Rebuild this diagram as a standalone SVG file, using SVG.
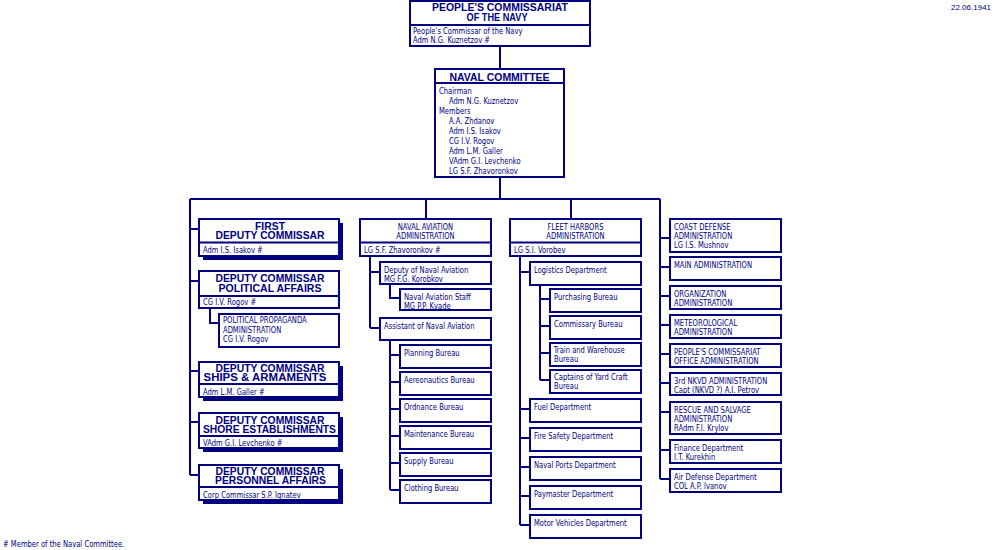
<svg xmlns="http://www.w3.org/2000/svg" width="1000" height="550" viewBox="0 0 1000 550" xml:space="preserve">
<style>
.b{fill:#fff;stroke:#000080;stroke-width:2}
.sh{fill:#000080}
.d{stroke:#000080;stroke-width:2}
.c{stroke:#000080;stroke-width:2;fill:none}
.t{font-family:"DejaVu Sans Condensed","Liberation Sans",sans-serif;font-size:9px;fill:#000080;transform:scaleX(0.84);transform-box:fill-box;transform-origin:0 50%}
.m{text-anchor:middle;transform-origin:50% 50%}
.h{font-family:"Liberation Sans","DejaVu Sans",sans-serif;font-weight:bold;font-size:10px;fill:#000080;text-anchor:middle}
.dt{font-family:"Liberation Sans",sans-serif;font-size:8px;fill:#000080}
</style>
<rect width="1000" height="550" fill="#fff"/>
<g id="connectors" class="c">
<path d="M500,46V69M500,177V199M190,199H660M190,199V475M426,199V219M571,199V219M660,199V479"/>
<path d="M190,229H199M190,281H199M190,371H199M190,422H199M190,475H199M210,308V323H219"/>
<path d="M370,256V328M370,272H380M370,328H380M390,284V298H400M390,340V490M390,355H400M390,382H400M390,409H400M390,436H400M390,463H400M390,490H400"/>
<path d="M520,256V525M520,272H530M520,409H530M520,438H530M520,467H530M520,496H530M520,525H530M540,285V380M540,299H550M540,326H550M540,353H550M540,380H550"/>
<path d="M660,238H670M660,267H670M660,296H670M660,325H670M660,354H670M660,383H670M660,412H670M660,450H670M660,479H670"/>
</g>
<g id="commissariat"><rect class="b" x="410" y="1" width="180" height="45"/><line class="d" x1="410" y1="25" x2="590" y2="25"/>
<text class="h" x="500" y="10.5" textLength="136" lengthAdjust="spacingAndGlyphs">PEOPLE'S COMMISSARIAT</text>
<text class="h" x="497" y="21" textLength="61" lengthAdjust="spacingAndGlyphs">OF THE NAVY</text>
<text class="t" x="413" y="34.5">People's Commissar of the Navy</text>
<text class="t" x="413" y="43.5">Adm  N.G. Kuznetzov #</text></g>
<g id="naval-committee"><rect class="b" x="435" y="69" width="129" height="108"/><line class="d" x1="435" y1="83" x2="564" y2="83"/>
<text class="h" x="499.5" y="80.5" textLength="100" lengthAdjust="spacingAndGlyphs">NAVAL COMMITTEE</text>
<text class="t" x="439" y="94">Chairman</text>
<text class="t" x="449" y="104">Adm  N.G. Kuznetzov</text>
<text class="t" x="439" y="114">Members</text>
<text class="t" x="449" y="124">A.A. Zhdanov</text>
<text class="t" x="449" y="134">Adm  I.S. Isakov</text>
<text class="t" x="449" y="144">CG  I.V. Rogov</text>
<text class="t" x="449" y="154">Adm  L.M. Galler</text>
<text class="t" x="449" y="164">VAdm  G.I. Levchenko</text>
<text class="t" x="449" y="174">LG  S.F. Zhavoronkov</text></g>
<g id="first-deputy"><rect class="sh" x="203" y="223" width="140" height="37"/><rect class="b" x="199" y="219" width="140" height="37"/><line class="d" x1="199" y1="242.5" x2="339" y2="242.5"/>
<text class="h" x="270" y="229.5" textLength="30" lengthAdjust="spacingAndGlyphs">FIRST</text>
<text class="h" x="270" y="239" textLength="109" lengthAdjust="spacingAndGlyphs">DEPUTY COMMISSAR</text>
<text class="t" x="203" y="253">Adm I.S. Isakov #</text></g>
<g id="political-affairs"><rect class="b" x="199" y="271" width="140" height="37"/><line class="d" x1="199" y1="296" x2="339" y2="296"/>
<text class="h" x="270" y="282" textLength="109" lengthAdjust="spacingAndGlyphs">DEPUTY COMMISSAR</text>
<text class="h" x="270" y="291.5" textLength="103" lengthAdjust="spacingAndGlyphs">POLITICAL AFFAIRS</text>
<text class="t" x="203" y="305">CG I.V. Rogov #</text></g>
<g id="propaganda"><rect class="b" x="219" y="314" width="120" height="33"/>
<text class="t" x="223" y="323.5">POLITICAL PROPAGANDA</text>
<text class="t" x="223" y="333">ADMINISTRATION</text>
<text class="t" x="223" y="342.5">CG  I.V. Rogov</text></g>
<g id="ships"><rect class="sh" x="203" y="366" width="140" height="35"/><rect class="b" x="199" y="362" width="140" height="35"/><line class="d" x1="199" y1="384" x2="339" y2="384"/>
<text class="h" x="270" y="371.5" textLength="109" lengthAdjust="spacingAndGlyphs">DEPUTY COMMISSAR</text>
<text class="h" x="265" y="381" textLength="123" lengthAdjust="spacingAndGlyphs">SHIPS &amp; ARMAMENTS</text>
<text class="t" x="203" y="395.5">Adm  L.M. Galler #</text></g>
<g id="shore"><rect class="sh" x="203" y="417" width="140" height="35"/><rect class="b" x="199" y="413" width="140" height="35"/><line class="d" x1="199" y1="436" x2="339" y2="436"/>
<text class="h" x="270" y="424" textLength="109" lengthAdjust="spacingAndGlyphs">DEPUTY COMMISSAR</text>
<text class="h" x="269.5" y="433.3" textLength="133" lengthAdjust="spacingAndGlyphs">SHORE ESTABLISHMENTS</text>
<text class="t" x="203" y="446.5">VAdm  G.I. Levchenko #</text></g>
<g id="personnel"><rect class="sh" x="203" y="469" width="140" height="35"/><rect class="b" x="199" y="465" width="140" height="35"/><line class="d" x1="199" y1="487" x2="339" y2="487"/>
<text class="h" x="270" y="475" textLength="109" lengthAdjust="spacingAndGlyphs">DEPUTY COMMISSAR</text>
<text class="h" x="270.5" y="484.3" textLength="111" lengthAdjust="spacingAndGlyphs">PERSONNEL AFFAIRS</text>
<text class="t" x="203" y="498">Corp Commissar  S.P. Ignatev</text></g>
<g id="naval-aviation"><rect class="b" x="360" y="219" width="131" height="37"/><line class="d" x1="360" y1="242.5" x2="491" y2="242.5"/>
<text class="t m" x="425.5" y="230">NAVAL AVIATION</text>
<text class="t m" x="425.5" y="239">ADMINISTRATION</text>
<text class="t" x="364" y="253">LG  S.F. Zhavoronkov #</text></g>
<g id="deputy-aviation"><rect class="b" x="380" y="262" width="111" height="22"/><text class="t" x="384" y="273">Deputy of Naval Aviation</text><text class="t" x="384" y="282">MG  F.G. Korobkov</text></g>
<g id="aviation-staff"><rect class="b" x="400" y="289" width="91" height="21"/><text class="t" x="404" y="300">Naval Aviation Staff</text><text class="t" x="404" y="309">MG  P.P. Kvade</text></g>
<g id="assistant-aviation"><rect class="b" x="380" y="318" width="111" height="22"/><text class="t" x="384" y="329">Assistant of Naval Aviation</text></g>
<g id="planning"><rect class="b" x="400" y="345" width="91" height="23"/><text class="t" x="404" y="356">Planning Bureau</text></g>
<g id="aeronautics"><rect class="b" x="400" y="372" width="91" height="23"/><text class="t" x="404" y="383">Aereonautics Bureau</text></g>
<g id="ordnance"><rect class="b" x="400" y="399" width="91" height="23"/><text class="t" x="404" y="410">Ordnance Bureau</text></g>
<g id="maintenance"><rect class="b" x="400" y="426" width="91" height="23"/><text class="t" x="404" y="437">Maintenance Bureau</text></g>
<g id="supply"><rect class="b" x="400" y="453" width="91" height="23"/><text class="t" x="404" y="464">Supply Bureau</text></g>
<g id="clothing"><rect class="b" x="400" y="480" width="91" height="23"/><text class="t" x="404" y="491">Clothing Bureau</text></g>
<g id="fleet-harbors"><rect class="b" x="510" y="219" width="131" height="37"/><line class="d" x1="510" y1="242.5" x2="641" y2="242.5"/>
<text class="t m" x="575.5" y="230">FLEET HARBORS</text>
<text class="t m" x="575.5" y="239">ADMINISTRATION</text>
<text class="t" x="514" y="253">LG  S.I. Vorobev</text></g>
<g id="logistics"><rect class="b" x="530" y="262" width="111" height="23"/><text class="t" x="534" y="273">Logistics Department</text></g>
<g id="purchasing"><rect class="b" x="550" y="289" width="91" height="23"/><text class="t" x="554" y="300">Purchasing Bureau</text></g>
<g id="commissary"><rect class="b" x="550" y="316" width="91" height="23"/><text class="t" x="554" y="327">Commissary Bureau</text></g>
<g id="train-warehouse"><rect class="b" x="550" y="343" width="91" height="23"/><text class="t" x="554" y="353.5">Train and Warehouse</text><text class="t" x="554" y="362.5">Bureau</text></g>
<g id="yard-craft"><rect class="b" x="550" y="370" width="91" height="23"/><text class="t" x="554" y="380.5">Captains of Yard Craft</text><text class="t" x="554" y="389.5">Bureau</text></g>
<g id="fuel"><rect class="b" x="530" y="399" width="111" height="23"/><text class="t" x="534" y="410">Fuel Department</text></g>
<g id="fire-safety"><rect class="b" x="530" y="428" width="111" height="23"/><text class="t" x="534" y="439">Fire Safety Department</text></g>
<g id="naval-ports"><rect class="b" x="530" y="457" width="111" height="23"/><text class="t" x="534" y="468">Naval Ports Department</text></g>
<g id="paymaster"><rect class="b" x="530" y="486" width="111" height="23"/><text class="t" x="534" y="497">Paymaster Department</text></g>
<g id="motor-vehicles"><rect class="b" x="530" y="515" width="111" height="23"/><text class="t" x="534" y="526">Motor Vehicles Department</text></g>
<g id="coast-defense"><rect class="b" x="670" y="219" width="111" height="33"/><text class="t" x="674" y="230">COAST DEFENSE</text><text class="t" x="674" y="239">ADMINISTRATION</text><text class="t" x="674" y="248">LG  I.S. Mushnov</text></g>
<g id="main-admin"><rect class="b" x="670" y="257" width="111" height="23"/><text class="t" x="674" y="268">MAIN ADMINISTRATION</text></g>
<g id="organization"><rect class="b" x="670" y="286" width="111" height="23"/><text class="t" x="674" y="297">ORGANIZATION</text><text class="t" x="674" y="306">ADMINISTRATION</text></g>
<g id="meteorological"><rect class="b" x="670" y="315" width="111" height="23"/><text class="t" x="674" y="326">METEOROLOGICAL</text><text class="t" x="674" y="335">ADMINISTRATION</text></g>
<g id="office-admin"><rect class="b" x="670" y="344" width="111" height="23"/><text class="t" x="674" y="355">PEOPLE'S COMMISSARIAT</text><text class="t" x="674" y="364">OFFICE ADMINISTRATION</text></g>
<g id="nkvd"><rect class="b" x="670" y="373" width="111" height="22"/><text class="t" x="674" y="384">3rd NKVD ADMINISTRATION</text><text class="t" x="674" y="393">Capt  (NKVD ?) A.I. Petrov</text></g>
<g id="rescue"><rect class="b" x="670" y="402" width="111" height="32"/><text class="t" x="674" y="413">RESCUE AND SALVAGE</text><text class="t" x="674" y="422">ADMINISTRATION</text><text class="t" x="674" y="431">RAdm  F.I. Krylov</text></g>
<g id="finance"><rect class="b" x="670" y="440" width="111" height="23"/><text class="t" x="674" y="451">Finance Department</text><text class="t" x="674" y="460">I.T. Kurekhin</text></g>
<g id="air-defense"><rect class="b" x="670" y="469" width="111" height="23"/><text class="t" x="674" y="480">Air Defense Department</text><text class="t" x="674" y="489">COL  A.P. Ivanov</text></g>
<text class="t" x="3" y="547">#  Member of the Naval Committee.</text>
<text class="dt" x="951" y="10">22.06.1941</text>
</svg>
